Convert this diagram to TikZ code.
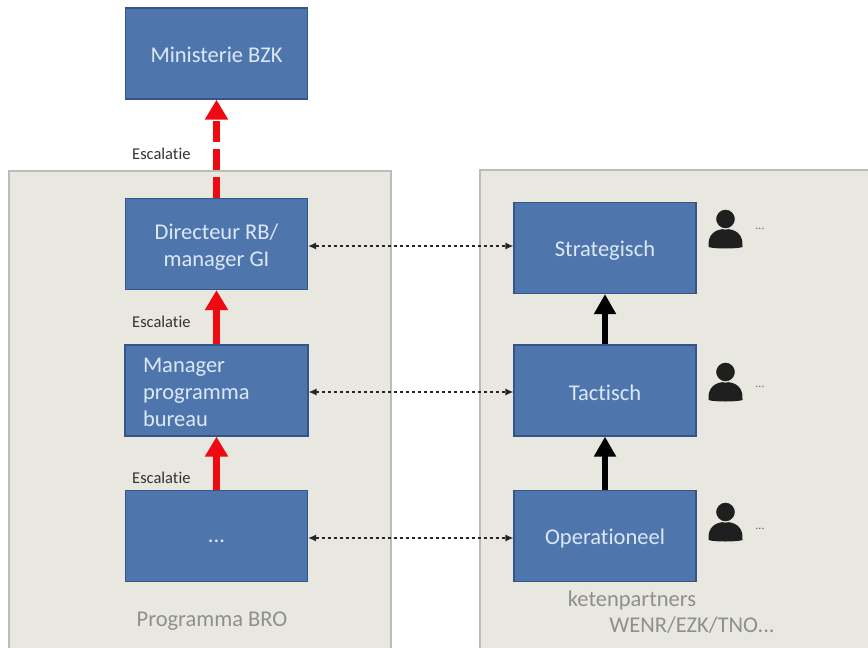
\documentclass[tikz,border=0pt]{standalone}
\usepackage{fontspec}
\setmainfont[Ligatures=NoCommon]{Carlito}
\usetikzlibrary{arrows.meta}
\definecolor{boxblue}{HTML}{4F76AC}
\definecolor{boxline}{HTML}{34558A}
\definecolor{boxtext}{HTML}{DCE8F7}
\definecolor{panelfill}{HTML}{E8E7E0}
\definecolor{panelline}{HTML}{BDBDB7}
\definecolor{paneltext}{HTML}{8F8F8B}
\definecolor{escred}{HTML}{EE0A12}

\begin{document}
\begin{tikzpicture}
  [x=1pt,y=-1pt,
   panel/.style={draw=panelline,fill=panelfill,line width=1.6pt},
   box/.style={draw=boxline,fill=boxblue,line width=1.2pt,minimum width=182pt,minimum height=91pt,
     text=boxtext,align=center,font=\fontsize{22.5}{27}\selectfont},
   esc/.style={font=\fontsize{16.5}{18}\selectfont,text=black!80,anchor=west,inner sep=0pt},
   graylabel/.style={font=\fontsize{22.5}{24}\selectfont,text=paneltext,inner sep=0pt},
   more/.style={font=\fontsize{12}{14}\selectfont,text=black!60,inner sep=0pt},
   escarrow/.style={-{Triangle[width=22pt,length=20pt]},line width=7pt,escred},
   uparrow/.style={-{Triangle[width=21pt,length=20pt]},line width=6.5pt,black},
   link/.style={{Latex[length=8pt,width=7pt]}-{Latex[length=8pt,width=7pt]},line width=1.2pt,dash pattern=on 3pt off 3pt,black!85},
   persoon/.pic={
     \fill[black!88] (-17,19) .. controls (-18,6) and (-10,1) .. (0,1) .. controls (10,1) and (18,6) .. (17,19)
       .. controls (12,21) and (-12,21) .. (-17,19) -- cycle;
     \fill[black!88,draw=panelfill,line width=1.2pt] (0,-9) circle (10);
   }]
  \useasboundingbox (0,0) rectangle (868,648);

  \node[panel,minimum width=382pt,minimum height=490pt] (bro) at (200,416) {};
  \node[panel,minimum width=400pt,minimum height=490pt] (partners) at (680,415) {};

  \node[box,text height=18pt] (bzk) at (216.5,53.5) {Ministerie BZK};
  \node[box] (dir) at (216.5,244) {\rule{0pt}{22pt}Directeur RB/\\manager GI};
  \node[box,align=left,text width=147pt,inner xsep=18pt,inner ysep=0pt] (man) at (216.5,390.5) {\rule{0pt}{19pt}Manager\\programma\\bureau};
  \node[box,text height=14pt] (dots) at (216.5,536) {...};

  \node[box,text height=20pt] (strat) at (605,248) {Strategisch};
  \node[box,text height=20pt] (tac) at (605,390.5) {Tactisch};
  \node[box,text height=20pt] (oper) at (605,536) {Operationeel};

  \node[esc] (esc1) at (132,154) {Escalatie};
  \node[esc] (esc2) at (132,322) {Escalatie};
  \node[esc] (esc3) at (132,478) {Escalatie};

  \node[graylabel] (bro label) at (212,621) {Programma BRO};
  \node[graylabel] (partners label) at (632,600) {ketenpartners};
  \node[graylabel] (wenr label) at (692,625) {WENR/EZK/TNO...};

  \draw[escarrow,dash pattern=on 21pt off 7pt] (dir) -- (bzk);
  \foreach \from/\to in {man/dir,dots/man}
    \draw[escarrow] (\from) -- (\to);
  \foreach \from/\to in {tac/strat,oper/tac}
    \draw[uparrow] (\from) -- (\to);

  \foreach \from/\to/\a/\b in {dir/strat/2/-2,man/tac/1.5/1.5,dots/oper/2/2}
    \draw[link] ([yshift=-\a pt]\from.east) -- ([yshift=-\b pt]\to.west);

  \foreach \name/\ypos/\ydots in {a/228/229,b/381/387,c/521/529}{
    \pic (p\name) at (725.5,\ypos) {persoon};
    \node[more] (more\name) at (760,\ydots) {...};
  }
\end{tikzpicture}
\end{document}
